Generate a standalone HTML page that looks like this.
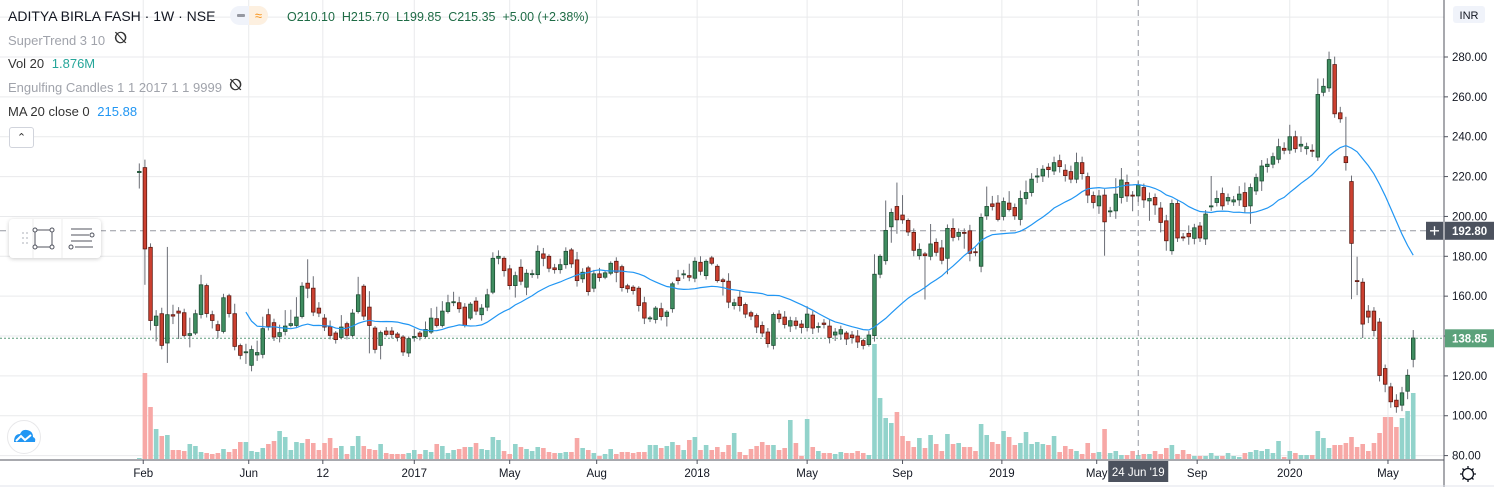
<!DOCTYPE html>
<html><head><meta charset="utf-8">
<style>
html,body{margin:0;padding:0;background:#fff;width:1494px;height:487px;overflow:hidden;font-family:"Liberation Sans",sans-serif;}
#wrap{position:relative;width:1494px;height:487px;}
svg{position:absolute;left:0;top:0;}
.t{position:absolute;white-space:nowrap;color:#131722;}
</style></head><body>
<div id="wrap">
<svg id="chart" width="1494" height="487"></svg>
<div class="t" style="left:8px;top:8px;font-size:14px;">ADITYA BIRLA FASH · 1W · NSE</div>
<div style="position:absolute;left:230px;top:6px;width:38px;height:19px;border-radius:10px;background:#f0f3fa;"><span style="position:absolute;left:7px;top:8px;width:8px;height:3px;background:#9598a1;border-radius:1px"></span><span style="position:absolute;left:19px;top:0px;width:19px;height:19px;background:#fdf0e0;border-radius:0 10px 10px 0;color:#f7931a;font-size:13px;text-align:center;line-height:19px">≈</span></div>
<div class="t" style="left:287px;top:10px;font-size:12.5px;color:#1e6b45">O210.10&nbsp; H215.70&nbsp; L199.85&nbsp; C215.35&nbsp; +5.00 (+2.38%)</div>
<div class="t" style="left:8px;top:33px;font-size:13px;color:#a0a3ab">SuperTrend 3 10</div>
<div class="t" style="left:114px;top:30px;font-size:16px;color:#333">⦰</div>
<div class="t" style="left:8px;top:56px;font-size:13px;color:#333">Vol 20 <span style="color:#26a69a;margin-left:4px">1.876M</span></div>
<div class="t" style="left:8px;top:80px;font-size:13px;color:#a0a3ab">Engulfing Candles 1 1 2017 1 1 9999</div>
<div class="t" style="left:229px;top:77px;font-size:16px;color:#333">⦰</div>
<div class="t" style="left:8px;top:104px;font-size:13px;color:#333">MA 20 close 0 <span style="color:#2196f3;margin-left:4px">215.88</span></div>
<div style="position:absolute;left:9px;top:127px;width:23px;height:19px;border:1px solid #d1d4dc;border-radius:3px;background:#fff;text-align:center;font-size:11px;line-height:20px;color:#333">&#8963;</div>
<div style="position:absolute;left:9px;top:219px;width:92px;height:39px;background:#fff;border-radius:4px;box-shadow:0 1px 4px rgba(0,0,0,0.2);">
 <svg width="92" height="39">
  <g fill="#c9cbd1"><circle cx="14" cy="14" r="1"/><circle cx="18" cy="14" r="1"/><circle cx="14" cy="19" r="1"/><circle cx="18" cy="19" r="1"/><circle cx="14" cy="24" r="1"/><circle cx="18" cy="24" r="1"/></g>
  <line x1="24" y1="0" x2="24" y2="39" stroke="#eee"/><line x1="53" y1="0" x2="53" y2="39" stroke="#eee"/>
  <g stroke="#50535e" fill="#fff"><rect x="26" y="11" width="17" height="17" fill="none"/><circle cx="26" cy="11" r="2"/><circle cx="43" cy="11" r="2"/><circle cx="26" cy="28" r="2"/><circle cx="43" cy="28" r="2"/></g>
  <g stroke="#50535e" fill="#fff"><line x1="62" y1="10" x2="83" y2="10"/><line x1="62" y1="16" x2="80" y2="16"/><line x1="62" y1="22" x2="83" y2="22"/><line x1="66" y1="28" x2="84" y2="28"/><circle cx="83" cy="16" r="2"/><circle cx="62" cy="28" r="2"/></g>
 </svg>
</div>
<div style="position:absolute;left:7px;top:420px;width:32px;height:32px;border-radius:50%;background:#fff;border:1px solid #e8e8ea">
 <svg width="32" height="32"><path d="M6 21 Q6 13 12 13 Q14 8 19 9 Q25 10 25 16 Q28 17 27 21 Z" fill="#2196f3"/><path d="M8 20 L13 15 L17 19 L23 14" stroke="#fff" stroke-width="2" fill="none"/></svg>
</div>
</div>
<script>
const ns="http://www.w3.org/2000/svg";
const svg=document.getElementById('chart');
// ---- data ----
const opens=[222,224.5,184.5,145.3,151.2,136.5,150.7,152.5,151.7,140.3,141.5,150.8,165.3,150.7,145.7,142.3,160.2,151.2,135.2,132,125.3,130.5,130.8,150.7,146.7,139.8,142.3,145.3,145.3,149.8,166.5,164,154,149,144.8,141.5,139.3,146.2,140.3,152.3,165,154.5,144,135.3,142.5,142.5,141,139.5,131.5,139.2,141.5,139.8,142,148.7,145.3,152.3,157,156.7,
154.5,149,157.5,150.7,154.5,162,179,179,173.7,165.3,174.5,164.5,171.2,170.8,181.2,180,174.2,173.3,175.8,183.2,178.2,168.7,174.2,164,171.2,169.5,171.5,177.5,174.8,165.2,164.5,164,156.7,149,148.3,153.7,149.8,153.7,169.2,170.7,170.3,169,177,170.3,179.2,175,168.2,167.5,155.3,159.5,155.8,151.7,150.3,145.3,142,135.3,
151,149.5,145,147.5,146,144.3,150.5,144.7,146.5,145,140.5,141,141.5,140.5,140,137.7,135.7,140.2,171,177.8,194.8,205,200.7,198,192,180.3,181.2,180,187,184.2,179,194,190,192,192.8,182.3,175,200.3,206.3,206.7,200,206.7,204.5,198.5,209,212,219.8,220.3,224.7,222.8,228,223.2,222.5,218.7,227,220,210.5,205.3,
210.7,202.7,202.8,209.5,217,210.7,210.3,214.5,207.8,209.5,204.2,197.8,182.8,206.5,189.7,191.5,189,195.2,188.7,204.8,207,211.5,207.8,207.3,208.3,212,205.3,212.8,217.8,225,226.2,228.7,234.2,233.3,240,235.3,234,233.2,229.8,262.3,264.5,276.2,252,230,217.5,167.8,167,152.5,152.5,147,123.7,114.5,107.8,105.3,112.3,128.3];
const closes=[222.6,183.7,147.8,150,135.3,150.7,150,151.5,140.3,141.2,151.2,165.7,151.3,147.8,142.8,159.2,151.3,134.8,130.3,132.1,133.2,131.7,143.7,144.8,139.5,141.7,145,146.2,149.5,165,164,152,151.5,144.5,140.3,138.2,144.5,140.3,151.5,160.7,150,145.3,133.3,141.7,140.8,140.8,139.3,132,138.7,139.8,139.8,143.3,149,145.3,152.5,156.7,157.2,153.7,
145.3,156,152.5,154,160.7,179,180,172.8,165.3,170.3,167.5,171.5,171.3,182.5,179,174,173.3,175.8,182.5,176.2,167.8,172,162.3,171.2,169.3,171.7,176.5,172,164.3,163.7,162.8,155.3,149,149.1,154,149.8,152,166.2,167.8,171.2,169.5,177.5,172.5,177.5,176.5,167.8,167.3,157,156.7,155.3,151,150,144.5,141.5,136.2,150.8,
148.7,145.8,147.7,145.3,144.3,151,144,144.8,145.8,139.3,142,143.2,138.5,139.2,137,135.3,140.5,171,180,193,202,198.3,198.3,192.2,183,183.5,180.3,186.2,182,178,194,189.5,192,191.8,181.5,182,199.5,205,205,198.5,207.5,203.5,200.3,209,212,218.7,220.3,223.7,223.5,227,225,220.5,218.7,227,221.5,210.7,207,210.3,
197.3,202.8,211.2,218.3,210.3,210.6,215.7,208.3,209,205.8,197,187.8,206.5,189.2,189.6,189.8,194.3,189.2,201.2,205.3,209,205.3,209.5,208.3,211.2,205,214.5,219.5,225.3,226.2,230,235,233.2,240,234,236.2,235,232.8,261.2,265.3,278.7,251.5,249,227,186.5,167.5,146,149.5,142.8,120.2,115.8,107,104.5,111.5,120.3,139];
const wickUp=[4,4,2,3,3,34,5,2,2,8,2,5,1,2,2,2,1,5,1,4,2,6,6,3,2,4,8,7,10,2,12,6,3,2,3,1,6,1,2,9,1,8,1,1,2,2,1,1,1,4,1,4,5,6,5,4,5,3,
2,1,2,2,3,3,3,1,2,2,4,2,2,3,3,1,2,3,2,1,4,2,1,2,3,1,1,2,1,1,1,1,3,1,1,3,1,1,4,2,6,2,3,1,1,1,1,4,2,3,1,1,1,2,2,1,
2,3,2,2,2,4,2,2,2,3,2,2,1,2,3,1,2,10,1,15,2,12,10,1,2,3,1,10,2,4,2,5,2,2,3,2,2,10,4,4,2,6,2,4,6,3,4,2,2,3,3,3,3,5,3,2,2,3,
3,2,8,6,4,2,2,2,3,2,3,3,2,2,2,4,2,2,2,15,4,3,2,2,4,5,2,2,3,3,2,4,3,6,3,4,2,3,8,4,4,4,3,20,3,12,2,3,2,2,2,2,3,3,3,4];
const wickDn=[8,18,5,8,2,10,4,13,1,6,1,2,2,4,4,1,2,2,2,6,3,3,2,2,2,3,2,1,1,1,5,2,2,2,2,2,1,2,1,1,2,14,2,7,1,2,2,2,2,2,2,1,1,1,1,1,2,2,
1,1,2,3,2,1,3,3,2,6,2,4,2,2,4,2,2,2,2,2,3,2,2,2,2,1,1,5,2,2,2,3,3,2,2,2,5,2,2,2,2,2,2,2,1,1,7,3,2,3,2,2,3,2,2,2,
2,2,3,2,3,2,3,3,2,3,3,3,3,3,3,2,1,3,2,2,8,7,2,2,3,2,22,2,2,2,8,2,2,8,4,2,3,2,2,1,2,1,2,3,3,2,3,3,4,2,3,3,2,2,3,4,3,4,
17,3,4,3,3,8,3,4,10,5,5,5,2,2,2,4,3,2,3,2,2,2,2,2,3,3,9,2,5,3,2,2,2,2,2,3,3,3,2,2,2,2,2,4,28,7,7,3,3,3,4,3,3,3,4,4];
const volumes=[1,86,52,30,23,24,9,9,8,15,13,7,6,5,6,10,7,10,17,17,8,7,11,15,18,28,22,9,17,16,20,16,9,16,21,11,13,5,13,23,13,10,9,15,6,5,5,5,6,9,5,9,7,15,13,6,9,10,
12,12,16,10,9,22,19,8,5,15,12,10,8,12,11,7,6,6,7,7,21,11,9,6,3,5,10,5,7,7,6,7,7,14,14,11,13,17,14,9,19,22,9,14,9,12,7,14,26,7,4,10,13,17,14,14,
9,11,39,16,3,40,12,8,6,6,5,7,6,6,8,6,4,115,61,41,36,47,23,18,12,21,11,24,15,8,25,15,16,12,12,8,35,24,17,15,28,22,14,16,27,15,17,15,14,23,7,13,10,8,5,16,6,7,
30,6,8,4,4,8,4,5,5,8,5,11,14,5,9,5,3,3,3,6,3,3,6,3,2,6,7,9,8,10,6,18,2,8,6,4,4,4,28,21,11,14,14,16,22,12,15,8,16,26,42,42,32,41,48,66];
const priceTicks=[80,100,120,140,160,180,200,220,240,260,280];
const timeLabels=["Feb","Jun","12","2017","May","Aug","2018","May","Sep","2019","May","Sep","2020","May"];
const timeIdx=[0.7,19.5,32.7,49,66,81.5,99.4,119,136,153.7,170.6,188.5,205,222.5];
const crossIdx=178;
// ---- axes ----
const X0=139.3, DX=5.612;
const xOf=i=>X0+i*DX;
const yOf=p=>57+(280-p)*1.993;
const volBase=459, vScale=1.0;
function el(tag,attrs,parent){const e=document.createElementNS(ns,tag);for(const k in attrs)e.setAttribute(k,attrs[k]);(parent||svg).appendChild(e);return e;}
const grid=el('g',{});


[300].concat(priceTicks).forEach(p=>{el('line',{x1:0,x2:1444,y1:yOf(p),y2:yOf(p),stroke:'#e9eaec','stroke-width':1},grid);});
timeIdx.forEach(t=>{el('line',{x1:xOf(t),x2:xOf(t),y1:0,y2:460,stroke:'#e9eaec','stroke-width':1},grid);});
const vg=el('g',{});


volumes.forEach((v,i)=>{const up=closes[i]>=opens[i];const r=el('rect',{x:xOf(i)-2.3,y:volBase-v*vScale,width:4.6,height:v*vScale,fill:up?'#92d3cb':'#f7a8a6'},vg);

});
el('line',{x1:0,x2:1444,y1:yOf(192.8),y2:yOf(192.8),stroke:'#9598a1','stroke-dasharray':'6,4'});
el('line',{x1:xOf(crossIdx),x2:xOf(crossIdx),y1:0,y2:460,stroke:'#9598a1','stroke-dasharray':'6,4'});
el('line',{x1:0,x2:1444,y1:yOf(138.85),y2:yOf(138.85),stroke:'#5b9b7a','stroke-dasharray':'2,2'});
const cg=el('g',{});


opens.forEach((o,i)=>{const c=closes[i];const up=c>=o;const x=xOf(i);
 const hi=Math.max(o,c)+wickUp[i], lo=Math.min(o,c)-wickDn[i];
 const g=el('g',{},cg);
 
 
 el('line',{x1:x,x2:x,y1:yOf(hi),y2:yOf(lo),stroke:'#6a6d75','stroke-width':1},g);
 const yt=yOf(Math.max(o,c)), yb=yOf(Math.min(o,c));
 el('rect',{x:x-1.8,y:yt,width:3.6,height:Math.max(1,yb-yt),fill:up?'#3f8d60':'#cc4030',stroke:up?'#1d4d33':'#5e1a12','stroke-width':0.8},g);
});
let pts=[];
for(let i=19;i<closes.length;i++){let s=0;for(let k=i-19;k<=i;k++)s+=closes[k];pts.push(xOf(i).toFixed(1)+','+yOf(s/20).toFixed(1));}
const ma=el('polyline',{points:pts.join(' '),fill:'none',stroke:'#2196f3','stroke-width':1.2});


el('rect',{x:1444,y:0,width:50,height:487,fill:'#fff'});
el('rect',{x:0,y:460,width:1444,height:27,fill:'#fff'});
el('line',{x1:1444,x2:1444,y1:0,y2:487,stroke:'#50535e'});
el('line',{x1:0,x2:1444,y1:460,y2:460,stroke:'#50535e'});
el('line',{x1:0,x2:1494,y1:486,y2:486,stroke:'#e0e3eb'});
const pa=el('g',{});


priceTicks.forEach(p=>{el('line',{x1:1444,x2:1448,y1:yOf(p),y2:yOf(p),stroke:'#50535e'},pa);
 const t=el('text',{x:1452,y:yOf(p)+4,'font-size':11.5,fill:'#131722','font-family':'Liberation Sans, sans-serif'},pa);t.textContent=p.toFixed(2);});
const ta=el('g',{});


timeLabels.forEach((l,k)=>{const x=xOf(timeIdx[k]);el('line',{x1:x,x2:x,y1:460,y2:464,stroke:'#50535e'},ta);
 const t=el('text',{x:x,y:477,'font-size':11.5,fill:'#131722','text-anchor':'middle','font-family':'Liberation Sans, sans-serif'},ta);t.textContent=l;});
const cl=el('g',{});


el('rect',{x:xOf(crossIdx)-30,y:461,width:60,height:21,fill:'#4c525e'},cl);
let t1=el('text',{x:xOf(crossIdx),y:476,'font-size':11.5,fill:'#fff','text-anchor':'middle','font-family':'Liberation Sans, sans-serif'},cl);t1.textContent="24 Jun '19";
const pl=el('g',{});


el('rect',{x:1426,y:yOf(192.8)-9,width:68,height:18,fill:'#4c525e'},pl);
el('line',{x1:1444,x2:1444,y1:yOf(192.8)-9,y2:yOf(192.8)+9,stroke:'#fff'},pl);
el('path',{d:`M1430 ${yOf(192.8)} h9 M1434.5 ${yOf(192.8)-4.5} v9`,stroke:'#fff','stroke-width':1.3},pl);
let t2=el('text',{x:1452,y:yOf(192.8)+4,'font-size':11.5,fill:'#fff','font-weight':'bold','font-family':'Liberation Sans, sans-serif'},pl);t2.textContent='192.80';
const ll=el('g',{});


el('rect',{x:1445,y:yOf(138.85)-9,width:49,height:18,fill:'#5ba17a'},ll);
let t3=el('text',{x:1452,y:yOf(138.85)+4,'font-size':11.5,fill:'#fff','font-weight':'bold','font-family':'Liberation Sans, sans-serif'},ll);t3.textContent='138.85';
const cur=el('g',{});


el('rect',{x:1453,y:6,width:32,height:17,rx:3,fill:'#f0f3fa'},cur);
let t4=el('text',{x:1469,y:19,'font-size':11,fill:'#131722','text-anchor':'middle','font-family':'Liberation Sans, sans-serif'},cur);t4.textContent='INR';
const gear=el('g',{});


el('circle',{cx:1468,cy:474,r:5.5,fill:'none',stroke:'#131722','stroke-width':1.3},gear);
el('path',{d:'M1468 466 v3 M1468 479 v3 M1460 474 h3 M1473 474 h3 M1462.5 468.5 l2 2 M1471.5 477.5 l2 2 M1462.5 479.5 l2 -2 M1471.5 470.5 l2 -2',stroke:'#131722','stroke-width':1.3},gear);
</script>
</body></html>
